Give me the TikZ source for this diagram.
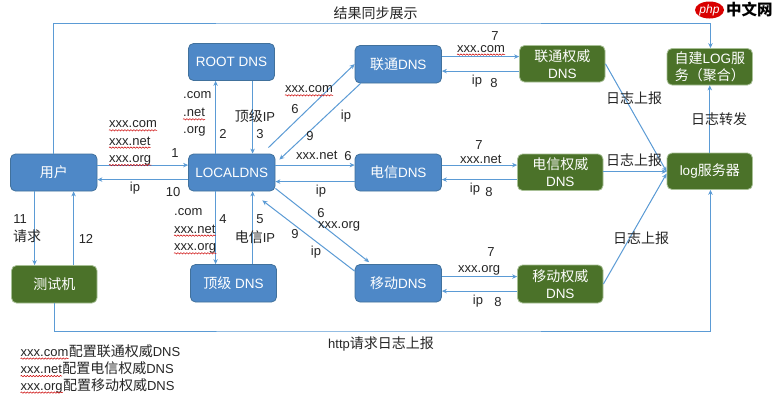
\documentclass[tikz,border=0pt]{standalone}
\usepackage{fontspec}
\setmainfont{Liberation Sans}
\newfontfamily\cjkfont{Noto Sans CJK SC}
\usetikzlibrary{arrows.meta,decorations.pathmorphing,shapes.geometric}
\definecolor{bluefill}{HTML}{4E88C7}
\definecolor{blueedge}{HTML}{41719C}
\definecolor{greenfill}{HTML}{4B7229}
\definecolor{greenedge}{HTML}{A8C096}
\definecolor{wire}{HTML}{5B9BD5}
\definecolor{ink}{HTML}{262626}
\newcommand{\cj}[1]{{\cjkfont\fontsize{14}{17}\selectfont #1}}
\tikzset{
  box/.style={rounded corners=5pt,inner sep=0pt,align=center,text=white,line width=.8pt,font=\fontsize{13.5}{17}\selectfont},
  bluebox/.style={box,fill=bluefill,draw=blueedge},
  greenbox/.style={box,fill=greenfill,draw=greenedge},
  lbl/.style={inner sep=0pt,text=ink,font=\fontsize{13}{17}\selectfont},
  wl/.style={lbl,anchor=base west},
  flow/.style={draw=wire,line width=1pt,-{Stealth[length=5pt,width=4.5pt]}},
  squig/.style={draw=red!80!black,line width=.5pt,decorate,decoration={snake,amplitude=.7pt,segment length=3pt}}
}
% name, left, top, right, bottom, style, text
\newcommand{\bx}[7]{\node[#6,minimum width={(#4)*1pt-(#2)*1pt},minimum height={(#5)*1pt-(#3)*1pt}] (#1) at ({((#2)+(#4))/2},{((#3)+(#5))/2}) {#7};}
\newcommand{\sq}[1]{\draw[squig] ([yshift=-2.6pt]#1.base west) -- ([yshift=-2.6pt]#1.base east);}
\begin{document}
\begin{tikzpicture}[x=1pt,y=-1pt]
\useasboundingbox (0,0) rectangle (776,402);
\fill[white] (0,0) rectangle (776,402);

\bx{root}{188.5}{43.5}{274.5}{80.5}{bluebox}{ROOT DNS}
\bx{liantong}{355}{45.5}{441.5}{83}{bluebox}{\cj{联通}DNS}
\bx{local}{188.5}{154}{275}{191}{bluebox}{LOCALDNS}
\bx{user}{10.5}{154}{97}{191}{bluebox}{\cj{用户}}
\bx{dianxin}{355}{154}{441.5}{191}{bluebox}{\cj{电信}DNS}
\bx{tld}{190.5}{264.5}{276.5}{302}{bluebox}{\cj{顶级} DNS}
\bx{yidong}{355}{264.5}{441.5}{302}{bluebox}{\cj{移动}DNS}
\bx{ltauth}{519.5}{45.5}{605}{82}{greenbox}{\cj{联通权威}\\DNS}
\bx{dxauth}{517.5}{154}{603}{190.5}{greenbox}{\cj{电信权威}\\DNS}
\bx{ydauth}{517.5}{265}{603}{303}{greenbox}{\cj{移动权威}\\DNS}
\bx{selflog}{667}{48.5}{752.5}{85}{greenbox}{\cj{自建}LOG\cj{服}\\\cj{务（聚合）}}
\bx{logsrv}{667}{153}{752.5}{189.5}{greenbox}{log\cj{服务器}}
\bx{tester}{11.5}{265.5}{97}{303}{greenbox}{\cj{测试机}}

\coordinate (railtop) at (375,23);
\coordinate (railbot) at (375,331);
\path[flow] (user.north) |- (railtop) -| ([xshift=.7pt]selflog.north);
\path[flow] (tester.south) |- (railbot) -| ([xshift=.7pt]logsrv.south);

\path[flow] ([yshift=-11.5pt]user.north east) -- ([yshift=-11.5pt]local.north west);
\path[flow] ([yshift=-26pt]local.north west) -- ([yshift=-26pt]user.north east);
\path[flow] ([xshift=27.5pt]local.north west) -- ([xshift=27.5pt]root.south west);
\path[flow] ([xshift=64.5pt]root.south west) -- ([xshift=64.5pt]local.north west);
\path[flow] ([xshift=27.5pt]local.south west) -- ([xshift=25.5pt]tld.north west);
\path[flow] ([xshift=62.5pt]tld.north west) -- ([xshift=64.5pt]local.south west);
\path[flow] ([xshift=-7pt,yshift=6pt]local.north east) -- ([yshift=-19pt]liantong.north west);
\path[flow] ([xshift=6pt]liantong.south west) -- ([xshift=4pt,yshift=-6pt]local.north east);
\path[flow] ([yshift=-11.5pt]local.north east) -- ([yshift=-11.5pt]dianxin.north west);
\path[flow] ([yshift=-28pt]dianxin.north west) -- ([yshift=-28pt]local.north east);
\path[flow] ([yshift=3pt]local.south east) -- ([xshift=14.5pt,yshift=2pt]yidong.north west);
\path[flow] ([yshift=-7pt]yidong.north west) -- ([xshift=-13pt,yshift=-9pt]local.south east);

\path[flow] ([xshift=24.5pt]user.south west) -- ([xshift=23.5pt]tester.north west);
\path[flow] ([xshift=62.5pt]tester.north west) -- ([xshift=63.5pt]user.south west);

\path[flow] ([yshift=-11.5pt]liantong.north east) -- ([yshift=-11.5pt]ltauth.north west);
\path[flow] ([yshift=-26pt]ltauth.north west) -- ([yshift=-26pt]liantong.north east);
\path[flow] ([yshift=-11.5pt]dianxin.north east) -- ([yshift=-11.5pt]dxauth.north west);
\path[flow] ([yshift=-26pt]dxauth.north west) -- ([yshift=-26pt]dianxin.north east);
\path[flow] ([yshift=-12.5pt]yidong.north east) -- ([yshift=-12pt]ydauth.north west);
\path[flow] ([yshift=-26.5pt]ydauth.north west) -- ([yshift=-27pt]yidong.north east);

\path[flow] (ltauth.east) -- ([yshift=-19pt]logsrv.north west);
\path[flow] ([yshift=-18pt]dxauth.north east) -- ([yshift=-19pt]logsrv.north west);
\path[flow] (ydauth.east) -- ([yshift=-21pt]logsrv.north west);
\path[flow] (logsrv.north) -- (selflog.south);

% plain labels
\node[lbl] (t1) at (375.5,13) {\cj{结果同步展示}};
\node[lbl] (n1) at (175,153) {1};
\node[lbl] (n2) at (223,134) {2};
\node[lbl] (n3) at (260,134) {3};
\node[lbl] (t2) at (255,116) {\cj{顶级}IP};
\node[lbl] (n6a) at (295,109) {6};
\node[lbl] (ipa) at (346,116) {ip};
\node[lbl] (n9a) at (310,136) {9};
\node[lbl] (n6b) at (348,156) {6};
\node[lbl] (ipb) at (135,188) {ip};
\node[lbl] (n10) at (173,192) {10};
\node[lbl] (ipc) at (321,191) {ip};
\node[lbl] (n4) at (223,219) {4};
\node[lbl] (n5) at (260,219) {5};
\node[lbl] (t3) at (255,237) {\cj{电信}IP};
\node[lbl] (n11) at (20,219) {11};
\node[lbl] (t4) at (27,236) {\cj{请求}};
\node[lbl] (n12) at (86,239) {12};
\node[lbl] (n6c) at (321,213) {6};
\node[lbl] (n9b) at (295,234) {9};
\node[lbl] (ipd) at (316,252) {ip};
\node[lbl] (t5) at (381,344) {http\cj{请求日志上报}};
\node[lbl] (n7a) at (495,36) {7};
\node[lbl] (ipe) at (477,81) {ip};
\node[lbl] (n8a) at (494,83) {8};
\node[lbl] (t6) at (634,98) {\cj{日志上报}};
\node[lbl] (t7) at (719,119) {\cj{日志转发}};
\node[lbl] (n7b) at (479,145) {7};
\node[lbl] (ipf) at (475,189) {ip};
\node[lbl] (n8b) at (489,192) {8};
\node[lbl] (t8) at (634,160) {\cj{日志上报}};
\node[lbl] (n7c) at (491,252) {7};
\node[lbl] (ipg) at (478,301) {ip};
\node[lbl] (n8c) at (498,302) {8};
\node[lbl] (t9) at (641,238) {\cj{日志上报}};

% words with and without spelling marks
\node[wl] (a1) at (109,127.7) {xxx.com}; \sq{a1}
\node[wl] (a2) at (109,145) {xxx.net}; \sq{a2}
\node[wl] (a3) at (109,162.5) {xxx.org}; \sq{a3}
\node[wl] (b1) at (183,98.7) {.com};
\node[wl] (b2) at (183,116.7) {.net}; \sq{b2}
\node[wl] (b3) at (183,133.7) {.org};
\node[wl] (c1) at (285,92.7) {xxx.com}; \sq{c1}
\node[wl] (c2) at (296,159) {xxx.net};
\node[wl] (d1) at (174,215.3) {.com};
\node[wl] (d2) at (174,233) {xxx.net}; \sq{d2}
\node[wl] (d3) at (174,250.7) {xxx.org}; \sq{d3}
\node[wl] (e1) at (318,228) {xxx.org};
\node[wl] (f1) at (457,52) {xxx.com}; \sq{f1}
\node[wl] (f2) at (460,163) {xxx.net};
\node[wl] (f3) at (458,272) {xxx.org};

% legend
\node[wl] (g1) at (20.5,356) {xxx.com}; \sq{g1}
\node[lbl,anchor=base west] (g1b) at (g1.base east) {\cj{配置联通权威}DNS};
\node[wl] (g2) at (20.5,373.5) {xxx.net}; \sq{g2}
\node[lbl,anchor=base west] (g2b) at (g2.base east) {\cj{配置电信权威}DNS};
\node[wl] (g3) at (20.5,390) {xxx.org}; \sq{g3}
\node[lbl,anchor=base west] (g3b) at (g3.base east) {\cj{配置移动权威}DNS};

% watermark
\node[ellipse,fill=red!85!black,minimum width=29pt,minimum height=17pt,inner sep=0pt,text=white,font=\fontsize{12}{12}\selectfont\itshape] (logo) at (709.5,10) {php};
\node[inner sep=0pt,anchor=west,text=black,font=\cjkfont\bfseries\fontsize{15.5}{16}\selectfont] (logot) at (726,10) {中文网};
\end{tikzpicture}
\end{document}
